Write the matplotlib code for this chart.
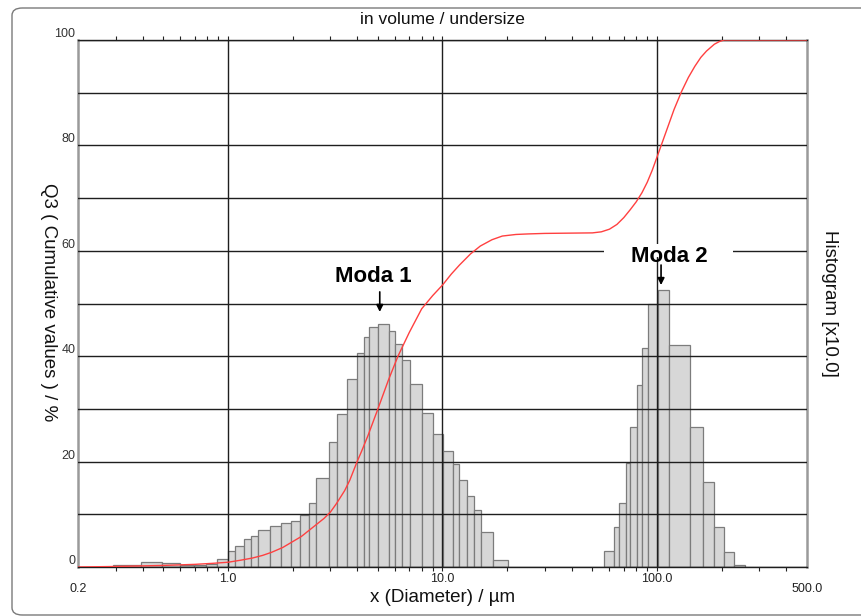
import numpy as np
import matplotlib
matplotlib.use("Agg")
import matplotlib.pyplot as plt
from matplotlib.patches import FancyBboxPatch, Rectangle
from matplotlib.ticker import FixedLocator, NullFormatter

plt.rcParams['font.family'] = ['Liberation Sans', 'DejaVu Sans']

# ---------------- data ----------------
# histogram, first population (bin edges in µm, heights)
edges_1 = [0.292, 0.394, 0.492, 0.596, 0.693, 0.789, 0.888, 1.0, 1.084, 1.188,
           1.286, 1.382, 1.568, 1.771, 1.972, 2.175, 2.377, 2.575, 2.972, 3.216,
           3.583, 3.990, 4.290, 4.542, 5.005, 5.615, 5.992, 6.482, 7.043, 8.043,
           8.997, 10.09, 11.16, 11.99, 12.98, 14.09, 15.10, 17.19, 20.21]
hist_1 = [0.4, 1.0, 0.7, 0.4, 0.3, 0.5, 1.5, 3.1, 4.0, 5.3,
          5.9, 7.0, 7.7, 8.4, 8.7, 9.9, 12.1, 16.8, 23.7, 29.0,
          35.7, 40.7, 43.6, 45.6, 46.1, 44.8, 42.4, 39.3, 34.7, 29.2,
          25.2, 22.1, 19.5, 16.5, 13.5, 10.8, 6.7, 1.4]

# histogram, second population
edges_2 = [56.66, 63.1, 66.4, 71.6, 74.99, 80.3, 85.1, 91.0, 101.4, 114.2,
           141.7, 163.7, 183.5, 205.3, 228.7, 256.4]
hist_2 = [3.0, 7.6, 12.1, 19.8, 26.6, 34.5, 41.6, 50.0, 52.6, 42.1,
          26.6, 16.2, 7.6, 2.9, 0.4]

# cumulative curve Q3 (%)
cum_x = [0.2, 0.3, 0.5, 0.7, 0.85, 1.0, 1.15, 1.3, 1.45, 1.6, 1.8, 2.0, 2.2,
         2.5, 2.8, 3.0, 3.2, 3.5, 3.7, 4.0, 4.2, 4.5, 5.0, 5.6, 6.2, 7.0, 8.0,
         9.0, 10.0, 11.0, 12.0, 13.5, 15.0, 17.0, 19.0, 22.0, 25.0, 30.0, 50.0,
         55.0, 60.0, 65.0, 70.0, 75.0, 80.0, 85.0, 90.0, 95.0, 100.0, 110.0,
         120.0, 130.0, 140.0, 150.0, 160.0, 170.0, 185.0, 195.0, 205.0, 500.0]
cum_y = [0.0, 0.1, 0.3, 0.5, 0.7, 0.9, 1.3, 1.7, 2.2, 2.8, 3.7, 4.8, 5.8,
         7.6, 9.2, 10.4, 12.0, 14.5, 16.5, 20.0, 22.0, 25.0, 30.0, 35.5, 40.0,
         44.5, 49.0, 51.5, 53.5, 55.6, 57.3, 59.4, 60.9, 62.1, 62.8, 63.1, 63.2,
         63.3, 63.4, 63.6, 64.1, 65.0, 66.3, 67.8, 69.3, 71.0, 73.0, 75.3, 77.8,
         82.5, 86.8, 90.2, 92.9, 95.0, 96.7, 97.9, 99.2, 99.7, 100.0, 100.0]

x_major = [1.0, 10.0, 100.0]
x_major_labels = ['1.0', '10.0', '100.0']
y_ticks = list(range(0, 101, 10))
y_tick_labels = [str(v) if v % 20 == 0 else '' for v in y_ticks]

# ---------------- figure ----------------
W, H = 862, 616
fig = plt.figure(figsize=(W / 100, H / 100), dpi=100)

# outer rounded frame
frame = FancyBboxPatch((12 / W, 1 / H), 900 / W, 607 / H,
                       boxstyle="round,pad=0,rounding_size=0.012",
                       transform=fig.transFigure, fill=False,
                       edgecolor='#7a7a7a', linewidth=1.0)
fig.patches.append(frame)

ax = fig.add_axes([78 / W, 49 / H, 729 / W, 527 / H])
ax.set_xscale('log')
ax.set_xlim(0.2, 500)
ax.set_ylim(0, 100)

for edges, h in ((edges_1, hist_1), (edges_2, hist_2)):
    e = np.array(edges)
    ax.bar(e[:-1], h, width=np.diff(e), align='edge',
           color='#d7d7d7', edgecolor='#7c7c7c', linewidth=0.9, zorder=1)

ax.plot(cum_x, cum_y, color='#ff4040', linewidth=1.0, zorder=3)

# grid drawn above the bars
ax.set_axisbelow(False)
ax.xaxis.set_major_locator(FixedLocator(x_major))
ax.set_xticklabels(x_major_labels)
minors = [k * 10.0 ** d for d in (-1, 0, 1, 2) for k in range(2, 10)]
minors = [m for m in minors if 0.2 < m < 500 and m not in x_major]
ax.xaxis.set_minor_locator(FixedLocator(minors))
ax.xaxis.set_minor_formatter(NullFormatter())
ax.set_yticks(y_ticks)
ax.set_yticklabels(y_tick_labels)
ax.grid(True, which='major', axis='both', color='#1e1e1e', linewidth=1.0)

ax.tick_params(axis='x', which='both', direction='out', length=3, width=0.8,
               color='#222222', top=True, labeltop=False, labelsize=9,
               pad=1, labelcolor='#222222')
ax.tick_params(axis='y', which='both', length=0, pad=2, labelsize=9,
               labelcolor='#333333')
for lab in ax.get_yticklabels():
    lab.set_verticalalignment('bottom')

for s in ('left', 'right'):
    ax.spines[s].set_color('#9a9a9a')
    ax.spines[s].set_linewidth(1.8)
for s in ('top', 'bottom'):
    ax.spines[s].set_color('#1e1e1e')
    ax.spines[s].set_linewidth(1.0)

# axis end labels
ax.annotate('0.2', xy=(0.2, 0), xycoords=('data', 'axes fraction'),
            xytext=(0, -15.5), textcoords='offset points',
            ha='center', va='center', fontsize=9, color='#222222')
ax.annotate('500.0', xy=(500, 0), xycoords=('data', 'axes fraction'),
            xytext=(0, -15.5), textcoords='offset points',
            ha='center', va='center', fontsize=9, color='#222222')

# texts
fig.text(442.5 / W, 1 - 20 / H, 'in volume / undersize', ha='center',
         va='center', fontsize=12.5, color='#111111')
fig.text(442.5 / W, 1 - 598 / H, 'x (Diameter) / µm', ha='center',
         va='center', fontsize=13.5, color='#111111')
fig.text(48 / W, 1 - 302.5 / H, 'Q3 ( Cumulative values ) / %', ha='center',
         va='center', rotation=270, fontsize=13.5, color='#111111')
fig.text(830 / W, 1 - 303.5 / H, 'Histogram [x10.0]', ha='center',
         va='center', rotation=270, fontsize=13.5, color='#111111')

# white gap in the grid line behind "Moda 2"
ax.add_patch(Rectangle((56.5, 58.8), 227 - 56.5, 2.4, facecolor='white',
                       edgecolor='none', zorder=2.6))

# annotations
ax.text(4.75, 54.1, 'Moda 1', ha='center', va='baseline', fontsize=16,
        fontweight='bold', zorder=5)
ax.annotate('', xy=(5.10, 48.4), xytext=(5.10, 52.2),
            arrowprops=dict(arrowstyle='-|>', mutation_scale=10, lw=1.2,
                            color='black', shrinkA=0, shrinkB=0), zorder=5)
ax.text(114.2, 57.8, 'Moda 2', ha='center', va='baseline', fontsize=16,
        fontweight='bold', zorder=5)
ax.annotate('', xy=(104.4, 53.5), xytext=(104.4, 57.3),
            arrowprops=dict(arrowstyle='-|>', mutation_scale=10, lw=1.2,
                            color='black', shrinkA=0, shrinkB=0), zorder=5)

fig.savefig('out.png', dpi=100)
